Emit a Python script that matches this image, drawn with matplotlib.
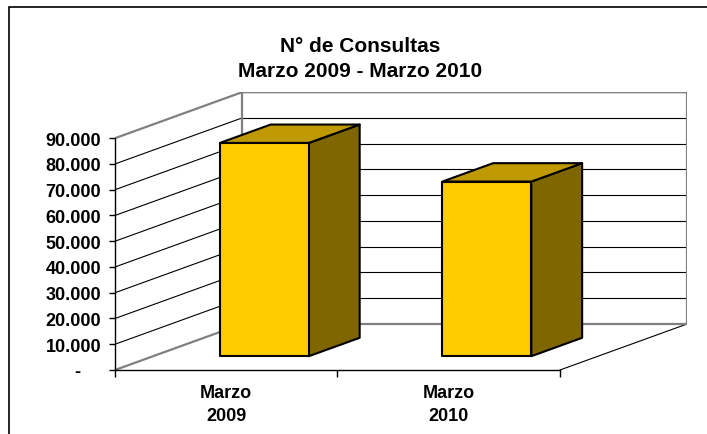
import matplotlib
matplotlib.use("Agg")
import matplotlib.pyplot as plt
from matplotlib.patches import Polygon, Rectangle

# ---------------- data ----------------
categories = ["Marzo\n2009", "Marzo\n2010"]
values = [82800, 67800]
y_ticks = [0, 10000, 20000, 30000, 40000, 50000, 60000, 70000, 80000, 90000]
y_tick_labels = ["-    ", "10.000", "20.000", "30.000", "40.000", "50.000",
                 "60.000", "70.000", "80.000", "90.000"]
title = "N° de Consultas\nMarzo 2009 - Marzo 2010"

plt.rcParams['font.family'] = ['Liberation Sans', 'DejaVu Sans']

W, H = 707, 435
fig = plt.figure(figsize=(W / 100, H / 100), dpi=100)

n = len(categories)
YMAX = y_ticks[-1]
DX = 0.571      # depth offset in category units
DY = 17860      # depth offset in value units
F0, F1 = 0.30, 0.70   # bar depth range (fraction of depth)
HALF = 0.2            # half bar width (category units)

ax = fig.add_axes([115 / W, (H - 371) / H, (687 - 115) / W, (371 - 93.2) / H])
ax.set_xlim(0, n + DX)
ax.set_ylim(0, YMAX + DY)

GRID = dict(color="black", lw=0.8, zorder=1)
WALL = dict(color="#808080", lw=1.6, zorder=1.5)

# left wall and back wall gridlines
for v in y_ticks[1:-1]:
    ax.plot([0, DX], [v, v + DY], **GRID)
    ax.plot([DX, n + DX], [v + DY, v + DY], **GRID)

# wall edges
ax.plot([0, DX, n + DX, n + DX], [YMAX, YMAX + DY, YMAX + DY, DY], **WALL)
ax.plot([0, DX, n + DX], [0, DY, DY], **WALL)
ax.plot([DX, DX], [DY, YMAX + DY], **WALL)
ax.plot([n, n + DX], [0, DY], color="black", lw=0.8, zorder=1)

# bars
front_c, top_c, side_c = "#FFCC00", "#BF9900", "#806600"
ddx, ddy = (F1 - F0) * DX, (F1 - F0) * DY
for i, v in enumerate(values):
    c = i + 0.5
    x0 = c - HALF + F0 * DX
    x1 = c + HALF + F0 * DX
    yb = F0 * DY
    yt = F0 * DY + v
    kw = dict(ec="black", lw=1.5, joinstyle="round", zorder=3)
    ax.add_patch(Polygon([(x1, yb), (x1 + ddx, yb + ddy), (x1 + ddx, yt + ddy), (x1, yt)],
                         fc=side_c, **kw))
    ax.add_patch(Polygon([(x0, yt), (x1, yt), (x1 + ddx, yt + ddy), (x0 + ddx, yt + ddy)],
                         fc=top_c, **kw))
    ax.add_patch(Polygon([(x0, yb), (x1, yb), (x1, yt), (x0, yt)], fc=front_c, **kw))

# axes lines
for s in ["top", "right"]:
    ax.spines[s].set_visible(False)
ax.spines["left"].set_bounds(0, YMAX)
ax.spines["bottom"].set_bounds(0, n)
for s in ["left", "bottom"]:
    ax.spines[s].set_color("black")
    ax.spines[s].set_linewidth(1.0)

ax.set_yticks(y_ticks)
ax.set_yticklabels(y_tick_labels, fontsize=13, fontweight="bold")
ax.tick_params(axis="y", length=4, width=1, pad=6)

ax.set_xticks(range(n + 1))
ax.set_xticklabels([""] * (n + 1))
ax.tick_params(axis="x", which="major", length=5, width=1)
ax.set_xticks([i + 0.5 for i in range(n)], minor=True)
ax.set_xticklabels(categories, minor=True, fontsize=13, fontweight="bold", linespacing=1.45)
ax.tick_params(axis="x", which="minor", length=0, pad=10)

fig.text(360 / W, 1 - 59 / H, title, ha="center", va="center", fontsize=15,
         fontweight="bold", linespacing=1.35)

fig.add_artist(Rectangle((9 / W, -0.1), 1.2, (H - 8) / H + 0.1, transform=fig.transFigure,
                         fill=False, ec="black", lw=1.2))

fig.savefig("out.png", dpi=100)
